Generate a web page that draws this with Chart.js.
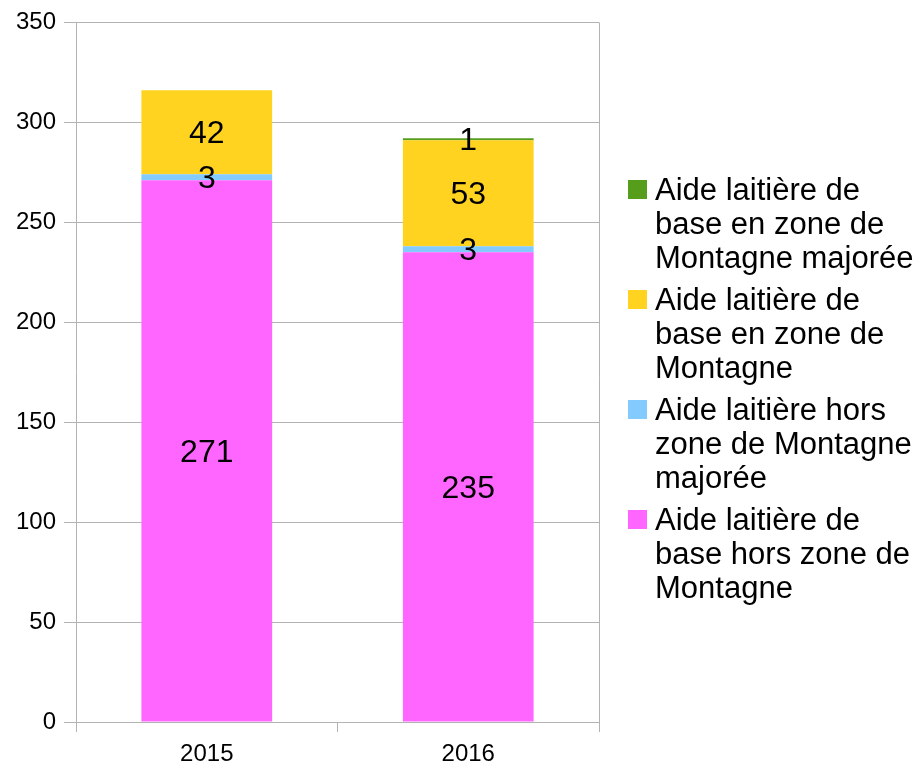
<!DOCTYPE html>
<html>
<head>
<meta charset="utf-8">
<script src="https://cdn.jsdelivr.net/npm/chart.js@4"></script>
<style>
  html, body { margin: 0; padding: 0; background: #fff; }
  #wrap { width: 918px; height: 765px; }
</style>
</head>
<body>
<div id="wrap"><canvas id="chart" width="918" height="765"></canvas></div>
<script>
// données
const years = ["2015", "2016"];
const seriesNames = [
  "Aide laitière de base hors zone de Montagne",
  "Aide laitière hors zone de Montagne majorée",
  "Aide laitière de base en zone de Montagne",
  "Aide laitière de base en zone de Montagne majorée",
];
const baseHorsZone = [271, 235];
const horsZoneMajoree = [3, 3];
const baseEnZone = [42, 53];
const enZoneMajoree = [null, 1];
const yTicks = [0, 50, 100, 150, 200, 250, 300, 350];

const colors = ["#ff66ff", "#83caff", "#ffd320", "#579d1c"];
const FONT = "'Liberation Sans', Arial, sans-serif";

// étiquettes de valeurs au centre des segments
const valueLabels = {
  id: "valueLabels",
  afterDatasetsDraw(chart) {
    const ctx = chart.ctx;
    ctx.save();
    ctx.font = "32px " + FONT;
    ctx.fillStyle = "#000";
    ctx.textAlign = "center";
    ctx.textBaseline = "middle";
    chart.data.datasets.forEach((ds, i) => {
      const meta = chart.getDatasetMeta(i);
      meta.data.forEach((bar, j) => {
        const v = ds.data[j];
        if (v === null || v === undefined) return;
        const c = bar.getCenterPoint();
        ctx.fillText(String(v), c.x, c.y + 2);
      });
    });
    ctx.restore();
  },
};

// bord droit du graphique
const rightBorder = {
  id: "rightBorder",
  beforeDatasetsDraw(chart) {
    const { ctx, chartArea } = chart;
    ctx.save();
    ctx.strokeStyle = "#b3b3b3";
    ctx.lineWidth = 1;
    const x = Math.round(chartArea.right) + 0.5;
    ctx.beginPath();
    ctx.moveTo(x, chartArea.top);
    ctx.lineTo(x, chartArea.bottom + 10);
    ctx.stroke();
    ctx.restore();
  },
};

// légende à droite, texte sur plusieurs lignes
function wrapText(ctx, text, maxWidth) {
  const words = text.split(" ");
  const lines = [];
  let line = "";
  words.forEach((w) => {
    const test = line ? line + " " + w : w;
    if (line && ctx.measureText(test).width > maxWidth) {
      lines.push(line);
      line = w;
    } else {
      line = test;
    }
  });
  if (line) lines.push(line);
  return lines;
}

const sideLegend = {
  id: "sideLegend",
  afterDraw(chart) {
    const ctx = chart.ctx;
    ctx.save();
    ctx.font = "31px " + FONT;
    ctx.fillStyle = "#000";
    ctx.textBaseline = "middle";
    ctx.textAlign = "left";
    const boxX = 628, textX = 655, lineH = 34, groupGap = 8;
    let y = 191;
    const n = chart.data.datasets.length;
    for (let i = n - 1; i >= 0; i--) {
      const ds = chart.data.datasets[i];
      const lines = wrapText(ctx, ds.label, 268);
      ctx.fillStyle = ds.backgroundColor;
      ctx.fillRect(boxX, y - 11, 19, 19);
      ctx.fillStyle = "#000";
      lines.forEach((l, k) => ctx.fillText(l, textX, y + k * lineH));
      y += lines.length * lineH + groupGap;
    }
    ctx.restore();
  },
};

const datasetValues = [baseHorsZone, horsZoneMajoree, baseEnZone, enZoneMajoree];

const ctxBar = document.getElementById("chart").getContext("2d");
const myChart = new Chart(ctxBar, {
  type: "bar",
  data: {
    labels: years,
    datasets: datasetValues.map((vals, i) => ({
      label: seriesNames[i],
      data: vals,
      backgroundColor: colors[i],
      borderWidth: 0,
      barPercentage: 0.5,
      categoryPercentage: 1,
    })),
  },
  options: {
    responsive: false,
    animation: false,
    layout: { padding: { left: 8, right: 319, top: 10, bottom: -11 } },
    plugins: {
      legend: { display: false },
      tooltip: { enabled: false },
    },
    scales: {
      x: {
        stacked: true,
        grid: {
          offset: true,
          drawOnChartArea: false,
          drawTicks: true,
          tickLength: 10,
          color: "#b3b3b3",
        },
        border: { color: "#b3b3b3" },
        ticks: {
          color: "#000",
          font: { family: FONT, size: 24, lineHeight: 1 },
          padding: 10,
        },
      },
      y: {
        stacked: true,
        min: 0,
        max: 350,
        afterBuildTicks(axis) {
          axis.ticks = yTicks.map((v) => ({ value: v }));
        },
        grid: {
          color: "#b3b3b3",
          tickLength: 12,
        },
        border: { color: "#b3b3b3" },
        ticks: {
          color: "#000",
          font: { family: FONT, size: 24 },
          padding: 8,
        },
      },
    },
  },
  plugins: [valueLabels, rightBorder, sideLegend],
});
</script>
</body>
</html>
